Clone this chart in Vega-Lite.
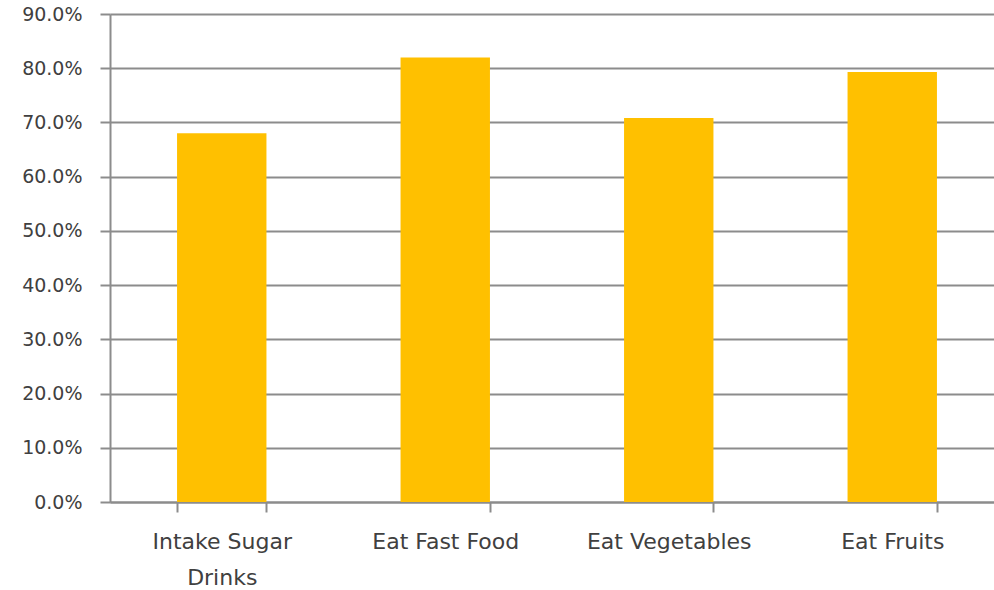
{
  "$schema": "https://vega.github.io/schema/vega-lite/v6.json",
  "autosize": "none",
  "padding": {"left": 110, "top": 14, "right": 0, "bottom": 88},
  "width": 894,
  "height": 488,
  "background": "white",
  "config": {"view": {"stroke": null}},
  "data": {"values": [
    {"category": "Intake Sugar Drinks", "value": 0.68},
    {"category": "Eat Fast Food", "value": 0.82},
    {"category": "Eat Vegetables", "value": 0.708},
    {"category": "Eat Fruits", "value": 0.793}
  ]},
  "mark": {"type": "bar", "color": "#FFC000"},
  "encoding": {
    "x": {
      "field": "category", "type": "nominal", "sort": null,
      "scale": {"paddingInner": 0.6, "paddingOuter": 0.3},
      "axis": {
        "title": null, "labelAngle": 0, "tickBand": "extent",
        "tickSize": 10, "tickColor": "#8c8c8c", "tickWidth": 2,
        "domainColor": "#8c8c8c", "domainWidth": 2,
        "labelFont": "DejaVu Sans", "labelFontSize": 22, "labelColor": "#404040",
        "labelPadding": 19, "labelLineHeight": 36,
        "labelExpr": "datum.label == 'Intake Sugar Drinks' ? ['Intake Sugar', 'Drinks'] : datum.label"
      }
    },
    "y": {
      "field": "value", "type": "quantitative",
      "scale": {"domain": [0, 0.9], "nice": false},
      "axis": {
        "title": null, "format": ".1%", "values": [0,0.1,0.2,0.3,0.4,0.5,0.6,0.7,0.8,0.9],
        "grid": true, "gridColor": "#8c8c8c", "gridWidth": 2,
        "tickSize": 10, "tickColor": "#8c8c8c", "tickWidth": 2,
        "domainColor": "#8c8c8c", "domainWidth": 2,
        "labelFont": "DejaVu Sans", "labelFontSize": 19, "labelColor": "#404040",
        "labelPadding": 18
      }
    }
  }
}
